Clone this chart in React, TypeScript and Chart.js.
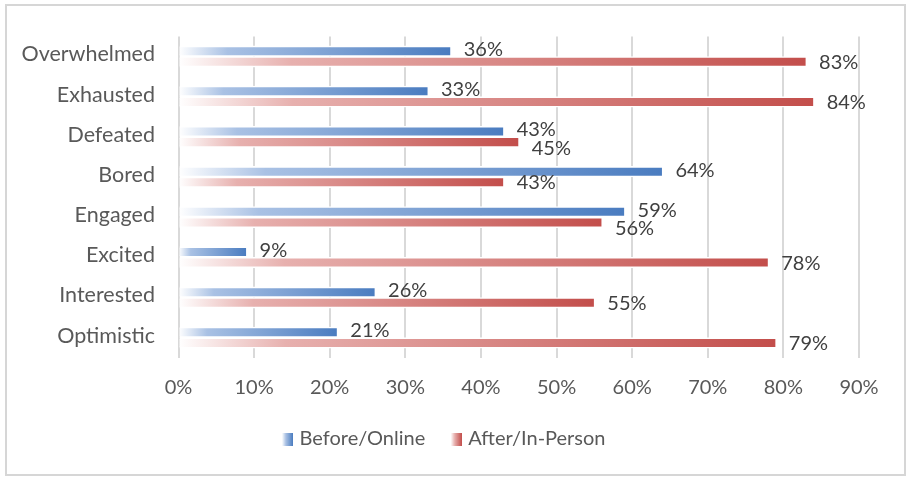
import React, { useEffect, useRef } from "react";
import { Chart, registerables } from "chart.js";

Chart.register(...registerables);

// Survey answers: share of respondents describing each feeling
const emotions = [
  "Overwhelmed",
  "Exhausted",
  "Defeated",
  "Bored",
  "Engaged",
  "Excited",
  "Interested",
  "Optimistic",
];
const beforeOnline = [36, 33, 43, 64, 59, 9, 26, 21];
const afterInPerson = [83, 84, 45, 43, 56, 78, 55, 79];
const seriesNames = ["Before/Online", "After/In-Person"];
const percentTicks = [0, 10, 20, 30, 40, 50, 60, 70, 80, 90];

const FONT = "Lato";
const AXIS_TEXT = "#595959";
const LABEL_TEXT = "#404040";

type Stop = [number, string];
const blueStops: Stop[] = [
  [0, "#ffffff"],
  [0.18, "#a9c1e4"],
  [1, "#4a7cc0"],
];
const redStops: Stop[] = [
  [0, "#ffffff"],
  [0.18, "#e7b0ae"],
  [1, "#c34e4b"],
];

// Each bar fades from white at zero to the full series colour at its own end
function barGradient(stops: Stop[]) {
  return (ctx: any) => {
    const chart = ctx.chart;
    const x = chart.scales && chart.scales.x;
    if (!x || ctx.type !== "data" || typeof ctx.raw !== "number") {
      return stops[stops.length - 1][1];
    }
    const x0 = x.getPixelForValue(0);
    const x1 = x.getPixelForValue(ctx.raw);
    if (!isFinite(x0) || !isFinite(x1) || x1 - x0 < 1) return stops[stops.length - 1][1];
    const g = chart.ctx.createLinearGradient(x0, 0, x1, 0);
    stops.forEach(([o, c]) => g.addColorStop(o, c));
    return g;
  };
}

// Small gradient swatch used as the legend marker
function swatch(stops: Stop[]): HTMLCanvasElement {
  const c = document.createElement("canvas");
  c.width = 11;
  c.height = 13;
  const g2 = c.getContext("2d")!;
  const g = g2.createLinearGradient(0, 0, 11, 0);
  g.addColorStop(0, "#ffffff");
  g.addColorStop(0.35, stops[1][1]);
  g.addColorStop(1, stops[stops.length - 1][1]);
  g2.fillStyle = g;
  g2.fillRect(0, 0, 11, 13);
  return c;
}

// Percentage labels to the right of each bar; a second-series label that would
// collide with the first-series label of the same row is moved down below it.
const valueLabels = {
  id: "valueLabels",
  afterDatasetsDraw(chart: any) {
    const { ctx } = chart;
    ctx.save();
    ctx.font = `20px ${FONT}`;
    ctx.fillStyle = LABEL_TEXT;
    ctx.textBaseline = "middle";
    ctx.textAlign = "left";
    const placed: { l: number; r: number; y: number }[] = [];
    chart.data.datasets.forEach((ds: any, di: number) => {
      const meta = chart.getDatasetMeta(di);
      meta.data.forEach((el: any, i: number) => {
        const text = `${ds.data[i]}%`;
        const w = ctx.measureText(text).width;
        const left = el.x + 13;
        let y = el.y + (di === 0 ? -1.5 : 0.5);
        const prev = di > 0 ? placed[i] : undefined;
        if (prev && left < prev.r && left + w > prev.l && Math.abs(y - prev.y) < 18) {
          y = prev.y + 18.5;
        }
        placed[i] = { l: left, r: left + w, y };
        ctx.fillText(text, left, y);
      });
    });
    ctx.restore();
  },
};

// The legend row is centred on the frame between the label column's inner
// margin and the plot's right edge.
const legendSpan = {
  id: "legendSpan",
  afterLayout(chart: any) {
    if (chart.legend) chart.legend.left = 32;
  },
};

export default function App() {
  const canvasRef = useRef<HTMLCanvasElement | null>(null);

  useEffect(() => {
    const canvas = canvasRef.current;
    if (!canvas) return;
    Chart.defaults.font.family = FONT;

    const markers = [swatch(blueStops), swatch(redStops)];

    const chart = new Chart(canvas, {
      type: "bar",
      data: {
        labels: emotions,
        datasets: [
          {
            label: seriesNames[0],
            data: beforeOnline,
            backgroundColor: barGradient(blueStops) as any,
          },
          {
            label: seriesNames[1],
            data: afterInPerson,
            backgroundColor: barGradient(redStops) as any,
          },
        ],
      },
      options: {
        indexAxis: "y",
        responsive: false,
        animation: false,
        layout: { padding: { top: 33, left: 0, right: 50, bottom: 18 } },
        datasets: {
          bar: {
            barThickness: 10.6,
            borderColor: "#ffffff",
            borderWidth: { top: 1.6, bottom: 1.6, right: 0.8, left: 0 },
            borderSkipped: false,
          },
        },
        scales: {
          x: {
            min: 0,
            max: 90,
            afterBuildTicks: (s: any) => {
              s.ticks = percentTicks.map((v) => ({ value: v }));
            },
            afterFit: (s: any) => {
              s.height = 42.3;
            },
            ticks: {
              callback: (v: any) => `${v}%`,
              color: AXIS_TEXT,
              font: { family: FONT, size: 20 },
              padding: 18,
              maxRotation: 0,
            },
            grid: { color: "#d9d9d9", lineWidth: 2, drawTicks: false },
            border: { display: false },
          },
          y: {
            afterFit: (s: any) => {
              s.width = 178.5;
            },
            ticks: {
              color: AXIS_TEXT,
              font: { family: FONT, size: 21.5 },
              padding: 23.5,
              labelOffset: -2,
            },
            grid: { display: false, drawTicks: false },
            border: { display: false },
          },
        },
        plugins: {
          tooltip: { enabled: false },
          legend: {
            position: "bottom",
            labels: {
              usePointStyle: true,
              pointStyleWidth: 4,
              padding: 29,
              color: AXIS_TEXT,
              font: { family: FONT, size: 20 },
              generateLabels: (c: any) =>
                c.data.datasets.map((ds: any, i: number) => ({
                  text: ds.label,
                  pointStyle: markers[i],
                  fillStyle: "transparent",
                  strokeStyle: "transparent",
                  lineWidth: 0,
                  hidden: false,
                  datasetIndex: i,
                  fontColor: AXIS_TEXT,
                })),
            },
          },
        },
      },
      plugins: [valueLabels, legendSpan],
    });

    return () => chart.destroy();
  }, []);

  return (
    <div
      style={{
        position: "absolute",
        left: 0,
        top: 0,
        width: 909,
        height: 477,
        background: "#ffffff",
        overflow: "hidden",
      }}
    >
      <div
        style={{
          position: "absolute",
          left: 5,
          top: 4,
          width: 897,
          height: 468,
          border: "2px solid #d6d6d6",
        }}
      />
      <canvas
        ref={canvasRef}
        width={909}
        height={477}
        style={{ position: "absolute", left: 0, top: 0, width: 909, height: 477 }}
      />
    </div>
  );
}
